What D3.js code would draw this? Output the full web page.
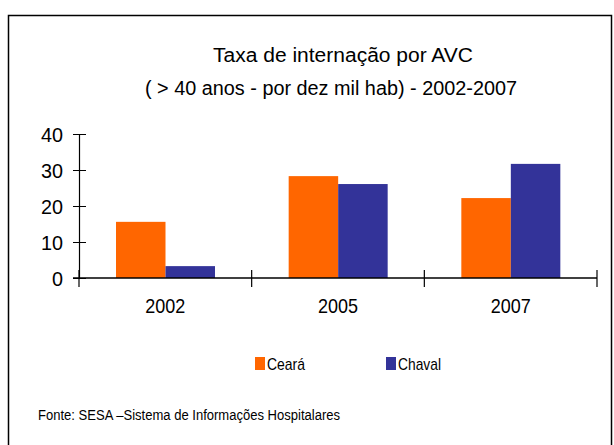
<!DOCTYPE html>
<html>
<head>
<meta charset="utf-8">
<script src="https://cdn.jsdelivr.net/npm/d3@7"></script>
<style>
  body { margin: 0; background: #fff; }
  svg text { font-family: "Liberation Sans", Arial, sans-serif; fill: #000; }
</style>
</head>
<body>
<div id="vis"></div>
<script>
// data
const years = ['2002', '2005', '2007'];
const seriesNames = ['Ceará', 'Chaval'];
const ceara = [15.6, 28.3, 22.2];
const chaval = [3.3, 26.1, 31.7];
const yTicks = [0, 10, 20, 30, 40];

const colors = { 'Ceará': '#ff6600', 'Chaval': '#333399' };

const W = 614, H = 445;
const svg = d3.select('#vis').append('svg')
  .attr('width', W).attr('height', H);

// frame
svg.append('rect')
  .attr('x', 8.5).attr('y', 15.5)
  .attr('width', 603).attr('height', 440)
  .attr('fill', 'none').attr('stroke', '#000').attr('stroke-width', 1.5);

// titles
svg.append('text').attr('x', 213).attr('y', 62)
  .style('font-size', '20px')
  .attr('textLength', 260).attr('lengthAdjust', 'spacingAndGlyphs')
  .text('Taxa de internação por AVC');
svg.append('text').attr('x', 145).attr('y', 95)
  .style('font-size', '20px')
  .attr('textLength', 372).attr('lengthAdjust', 'spacingAndGlyphs')
  .text('( > 40 anos - por dez mil hab) - 2002-2007');

const x0 = d3.scaleBand().domain(years).range([79, 597]).padding(0);
const x1 = d3.scaleBand().domain(seriesNames).range([37, 136]).padding(0);
const y = d3.scaleLinear().domain([0, 40]).range([278, 134]);

const rows = years.map((yr, i) => ({ year: yr, values: [
  { name: 'Ceará', v: ceara[i] }, { name: 'Chaval', v: chaval[i] }] }));

const g = svg.append('g');
g.selectAll('g.grp').data(rows).enter().append('g')
  .attr('class', 'grp')
  .attr('transform', d => `translate(${x0(d.year)},0)`)
  .selectAll('rect').data(d => d.values).enter().append('rect')
  .attr('x', d => x1(d.name))
  .attr('width', x1.bandwidth())
  .attr('y', d => y(d.v))
  .attr('height', d => y(0) - y(d.v))
  .attr('fill', d => colors[d.name]);

// y axis
const yAxis = svg.append('g').attr('transform', 'translate(79,0)')
  .call(d3.axisLeft(y).tickValues(yTicks).tickSize(6).tickPadding(11).tickSizeOuter(0));
yAxis.select('.domain').attr('stroke', '#000').attr('stroke-width', 1.2);
yAxis.selectAll('.tick line').attr('x2', 7).attr('x1', -6).attr('stroke', '#000');
yAxis.selectAll('.tick text').style('font-size', '21px').attr('dy', '0.36em')
  .attr('x', -16).attr('textLength', function(d) { return d === 0 ? 11 : 22; })
  .attr('lengthAdjust', 'spacingAndGlyphs');

// x axis
const xAxis = svg.append('g').attr('transform', 'translate(0,278)');
xAxis.append('line').attr('x1', 73).attr('x2', 597).attr('y1', 0).attr('y2', 0)
  .attr('stroke', '#000').attr('stroke-width', 1.5);
const bounds = years.map(d => x0(d)).concat([x0.range()[1]]);
xAxis.selectAll('line.tk').data(bounds).enter().append('line')
  .attr('class', 'tk')
  .attr('x1', d => d).attr('x2', d => d).attr('y1', -8).attr('y2', 9)
  .attr('stroke', '#000').attr('stroke-width', 1.2);
xAxis.selectAll('text').data(years).enter().append('text')
  .attr('x', d => x0(d) + x0.bandwidth() / 2 - 20)
  .attr('y', 35).style('font-size', '21px')
  .attr('textLength', 40).attr('lengthAdjust', 'spacingAndGlyphs')
  .text(d => d);

// legend
const legX = [255, 386];
const legW = [38, 43];
const leg = svg.selectAll('g.leg').data(seriesNames).enter().append('g')
  .attr('class', 'leg')
  .attr('transform', (d, i) => `translate(${legX[i]},357)`);
leg.append('rect').attr('width', 10).attr('height', 13).attr('fill', d => colors[d]);
leg.append('text').attr('x', 12).attr('y', 13).style('font-size', '17px')
  .attr('textLength', (d, i) => legW[i]).attr('lengthAdjust', 'spacingAndGlyphs')
  .text(d => d);

// source
svg.append('text').attr('x', 38).attr('y', 420).style('font-size', '14px')
  .attr('textLength', 302).attr('lengthAdjust', 'spacingAndGlyphs')
  .text('Fonte: SESA –Sistema de Informações Hospitalares');
</script>
</body>
</html>
